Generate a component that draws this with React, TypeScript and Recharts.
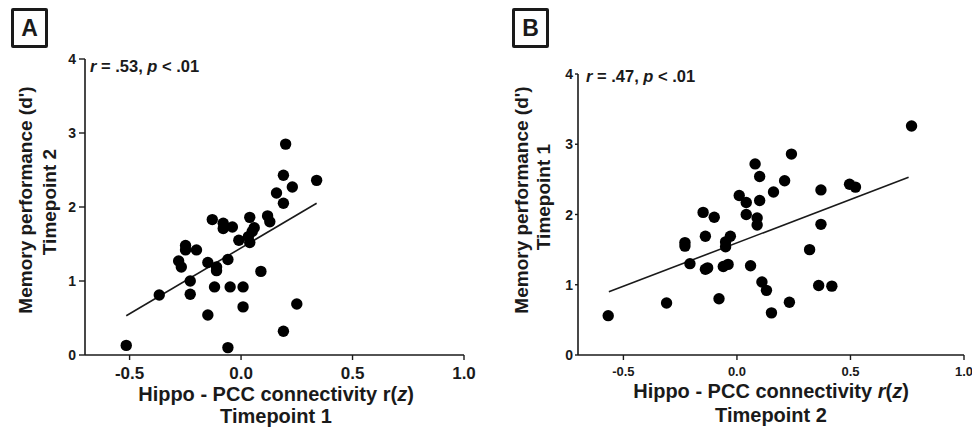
import React from 'react';
import { ScatterChart, Scatter, XAxis, YAxis, ReferenceLine, Label } from 'recharts';

// Panel A: Timepoint 1 connectivity vs Timepoint 2 memory
const A_X = [-0.515, -0.367, -0.28, -0.268, -0.249, -0.249, -0.228, -0.228, -0.2, -0.149, -0.149, -0.129, -0.119, -0.11, -0.11, -0.08, -0.08, -0.059, -0.059, -0.049, -0.039, -0.01, 0.009, 0.009, 0.039, 0.033, 0.039, 0.05, 0.059, 0.089, 0.119, 0.129, 0.159, 0.19, 0.19, 0.19, 0.2, 0.23, 0.25, 0.339];
const A_Y = [0.13, 0.81, 1.27, 1.19, 1.48, 1.42, 1.0, 0.82, 1.42, 0.54, 1.25, 1.83, 0.92, 1.19, 1.14, 1.78, 1.71, 1.29, 0.1, 0.92, 1.73, 1.55, 0.92, 0.65, 1.86, 1.6, 1.52, 1.67, 1.72, 1.13, 1.88, 1.8, 2.19, 2.43, 2.05, 0.32, 2.85, 2.27, 0.69, 2.36];
const A_FIT_X = [-0.515, 0.339];
const A_FIT_Y = [0.53, 2.05];

// Panel B: Timepoint 2 connectivity vs Timepoint 1 memory
const B_X = [-0.567, -0.31, -0.229, -0.229, -0.207, -0.149, -0.139, -0.139, -0.129, -0.1, -0.079, -0.06, -0.05, -0.05, -0.039, -0.029, 0.01, 0.041, 0.041, 0.06, 0.08, 0.089, 0.089, 0.1, 0.1, 0.11, 0.13, 0.152, 0.161, 0.21, 0.231, 0.24, 0.32, 0.37, 0.496, 0.522, 0.37, 0.36, 0.418, 0.769];
const B_Y = [0.56, 0.74, 1.6, 1.55, 1.3, 2.03, 1.69, 1.22, 1.24, 1.96, 0.8, 1.26, 1.61, 1.54, 1.29, 1.69, 2.27, 2.17, 2.0, 1.27, 2.72, 1.95, 1.85, 2.54, 2.2, 1.04, 0.92, 0.6, 2.32, 2.48, 0.75, 2.86, 1.5, 2.35, 2.43, 2.39, 1.86, 0.99, 0.98, 3.26];
const B_FIT_X = [-0.564, 0.756];
const B_FIT_Y = [0.9, 2.53];

const X_TICKS = [-0.5, 0, 0.5, 1.0];
const Y_TICKS = [0, 1, 2, 3, 4];

const FONT = '"Liberation Sans", Arial, sans-serif';
const INK = '#1a1a1a';

const toPoints = (xs: number[], ys: number[]) => xs.map((x, i) => ({ x, y: ys[i] }));

const Dot = (p: any) => <circle cx={p.cx} cy={p.cy} r={5.7} fill="#000" />;

// tick renderers with explicit font sizes
const xTick = (size: number, gap: number) => (t: any) => (
  <text
    x={t.x}
    y={355 + gap}
    textAnchor="middle"
    dominantBaseline="hanging"
    fontFamily={FONT}
    fontWeight={700}
    fontSize={size}
    fill={INK}
  >
    {Number(t.payload.value).toFixed(1)}
  </text>
);

const yTick = (size: number, axisX: number, gap: number) => (t: any) => (
  <text
    x={axisX - gap}
    y={t.y}
    textAnchor="end"
    dominantBaseline="central"
    fontFamily={FONT}
    fontWeight={700}
    fontSize={size}
    fill={INK}
  >
    {t.payload.value}
  </text>
);

interface PanelProps {
  left: number;
  width: number;
  plotLeft: number;
  top: number;
  right: number;
  xs: number[];
  ys: number[];
  fitX: number[];
  fitY: number[];
  xTickSize: number;
  yTickSize: number;
  xTickGap: number;
  yTickGap: number;
  yTickLen: number;
  stat: string;
  statX: number;
  statY: number;
  yTitle2: string;
  yTitleX: [number, number];
  yTitleCy: [number, number];
  xTitleY: [number, number];
  xTitleCx: number;
  italicR: boolean;
  xTitle2: string;
}

const Panel = (p: PanelProps) => {
  const data = toPoints(p.xs, p.ys);
  const fit = toPoints(p.fitX, p.fitY);
  const plotBottom = 355;
  return (
    <div style={{ position: 'absolute', left: p.left, top: 0 }}>
      <ScatterChart
        width={p.width}
        height={429}
        margin={{ top: p.top, right: p.right, bottom: 429 - plotBottom - 30, left: p.plotLeft - 30 }}
        style={{ fontFamily: FONT }}
      >
        <XAxis
          type="number"
          dataKey="x"
          domain={[-0.7, 1.0]}
          ticks={X_TICKS}
          allowDataOverflow
          height={30}
          tick={xTick(p.xTickSize, p.xTickGap)}
          tickSize={5}
          axisLine={{ stroke: INK, strokeWidth: 1.6 }}
          tickLine={{ stroke: INK, strokeWidth: 1.4 }}
        >
          <Label
            content={() => (
              <g style={{ fontFamily: FONT, fontWeight: 700, fontSize: 20 }} fill={INK}>
                <text x={p.xTitleCx} y={p.xTitleY[0]} textAnchor="middle">
                  Hippo - PCC connectivity{' '}
                  <tspan fontStyle={p.italicR ? 'italic' : 'normal'}>r</tspan>(
                  <tspan fontStyle="italic">z</tspan>)
                </text>
                <text x={p.xTitleCx} y={p.xTitleY[1]} textAnchor="middle">
                  {p.xTitle2}
                </text>
              </g>
            )}
          />
        </XAxis>
        <YAxis
          type="number"
          dataKey="y"
          domain={[0, 4]}
          ticks={Y_TICKS}
          width={30}
          tick={yTick(p.yTickSize, p.plotLeft - p.yTickLen, p.yTickGap)}
          tickSize={p.yTickLen}
          axisLine={{ stroke: INK, strokeWidth: 1.6 }}
          tickLine={{ stroke: INK, strokeWidth: 1.4 }}
        >
          <Label
            content={() => (
              <g style={{ fontFamily: FONT, fontWeight: 700 }} fill={INK}>
                <text
                  x={p.yTitleX[0]}
                  y={p.yTitleCy[0]}
                  fontSize={19}
                  textAnchor="middle"
                  transform={`rotate(-90 ${p.yTitleX[0]} ${p.yTitleCy[0]})`}
                >
                  Memory performance (d')
                </text>
                <text
                  x={p.yTitleX[1]}
                  y={p.yTitleCy[1]}
                  fontSize={19}
                  textAnchor="middle"
                  transform={`rotate(-90 ${p.yTitleX[1]} ${p.yTitleCy[1]})`}
                >
                  {p.yTitle2}
                </text>
                <text x={p.statX} y={p.statY} fontSize={16.5}>
                  <tspan fontStyle="italic">r</tspan>
                  {' = ' + p.stat + ', '}
                  <tspan fontStyle="italic">p</tspan>
                  {' < .01'}
                </text>
              </g>
            )}
          />
        </YAxis>
        <ReferenceLine segment={fit} stroke={INK} strokeWidth={1.6} ifOverflow="visible" />
        <Scatter data={data} shape={Dot} isAnimationActive={false} />
      </ScatterChart>
    </div>
  );
};

const BoxLabel = ({ left, text }: { left: number; text: string }) => (
  <div
    style={{
      position: 'absolute',
      left,
      top: 8,
      width: 31,
      height: 34,
      border: `3px solid ${INK}`,
      borderRadius: 2,
      fontFamily: FONT,
      fontWeight: 700,
      fontSize: 23,
      color: INK,
      display: 'flex',
      alignItems: 'center',
      justifyContent: 'center',
    }}
  >
    {text}
  </div>
);

export default function App() {
  return (
    <div style={{ position: 'absolute', left: 0, top: 0, width: 972, height: 429, background: '#fff', overflow: 'hidden' }}>
      <BoxLabel left={11} text="A" />
      <BoxLabel left={512} text="B" />
      <Panel
        left={0}
        width={480}
        plotLeft={85}
        top={59}
        right={16}
        xs={A_X}
        ys={A_Y}
        fitX={A_FIT_X}
        fitY={A_FIT_Y}
        xTickSize={17}
        yTickSize={14}
        xTickGap={12}
        yTickGap={3}
        yTickLen={6}
        stat=".53"
        statX={90}
        statY={72}
        yTitle2="Timepoint 2"
        yTitleX={[32, 56]}
        yTitleCy={[200, 202]}
        xTitleY={[401, 423]}
        xTitleCx={276}
        italicR={false}
        xTitle2="Timepoint 1"
      />
      <Panel
        left={490}
        width={482}
        plotLeft={88}
        top={74}
        right={8}
        xs={B_X}
        ys={B_Y}
        fitX={B_FIT_X}
        fitY={B_FIT_Y}
        xTickSize={13}
        yTickSize={14}
        xTickGap={11}
        yTickGap={2}
        yTickLen={3}
        stat=".47"
        statX={96}
        statY={82}
        yTitle2="Timepoint 1"
        yTitleX={[38, 60]}
        yTitleCy={[200, 197]}
        xTitleY={[398, 422]}
        xTitleCx={281}
        italicR={true}
        xTitle2="Timepoint 2"
      />
    </div>
  );
}
